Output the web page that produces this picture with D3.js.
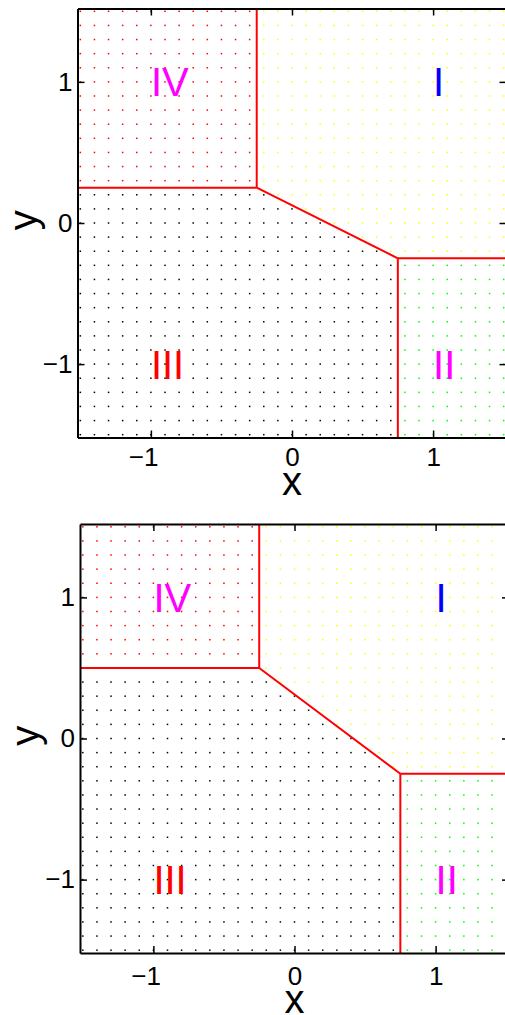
<!DOCTYPE html>
<html>
<head>
<meta charset="utf-8">
<script src="https://cdn.jsdelivr.net/npm/d3@7"></script>
<style>
  body { margin: 0; background: #fff; }
  text { font-family: "Liberation Sans", Arial, sans-serif; }
</style>
</head>
<body>
<div id="chart"></div>
<script>
// axis limits and ticks (same for both panels)
const axisLimits = [-1.52, 1.52];
const xTicks = [-1, 0, 1];
const yTicks = [-1, 0, 1];

// sample grid drawn as dots
const gridMin = -1.5, gridMax = 1.5, gridStep = 0.1;

// region labels
const regionNames = ['I', 'II', 'III', 'IV'];
const labelX = [1, 1, -1, -1];
const labelY = [1, -1, -1, 1];

// boundary corners, one entry per panel
const cornerA = [[-0.25, 0.25], [-0.25, 0.5]];
const cornerB = [[0.75, -0.25], [0.75, -0.25]];

const labelColor = { I: '#0000ff', II: '#ff00ff', III: '#ff0000', IV: '#ff00ff' };
const dotColor = { I: '#ffff00', II: '#00ff00', III: '#000000', IV: '#ff0000' };

const svg = d3.select('#chart').append('svg')
  .attr('width', 505)
  .attr('height', 1015);

const panelLayout = [
  { left: 77.5, top: 8.5, size: 429, tickBase: 10, xLabelY: 495 },
  { left: 80, top: 524, size: 429, tickBase: 14, xLabelY: 1013 }
];

function classify(px, py, a, b) {
  if (px <= a[0] && py >= a[1]) return 'IV';
  if (px >= b[0] && py <= b[1]) return 'II';
  if (px < a[0]) return 'III';
  if (px > b[0]) return 'I';
  const lineY = a[1] + (b[1] - a[1]) * (px - a[0]) / (b[0] - a[0]);
  return py > lineY ? 'I' : 'III';
}

const gridVals = d3.range(Math.round((gridMax - gridMin) / gridStep) + 1).map(i => +(gridMin + i * gridStep).toFixed(2));

panelLayout.forEach((p, k) => {
  const a = cornerA[k], b = cornerB[k];
  const x = d3.scaleLinear().domain(axisLimits).range([p.left, p.left + p.size]);
  const y = d3.scaleLinear().domain(axisLimits).range([p.top + p.size, p.top]);
  const g = svg.append('g');

  // dots
  const pts = [];
  gridVals.forEach(gx => gridVals.forEach(gy => pts.push([gx, gy, classify(gx, gy, a, b)])));
  g.append('g').selectAll('rect')
    .data(pts)
    .enter()
    .append('rect')
    .attr('x', d => x(d[0]) - 0.75)
    .attr('y', d => y(d[1]) - 0.75)
    .attr('width', 1.5)
    .attr('height', 1.5)
    .attr('fill', d => dotColor[d[2]]);

  // decision boundaries
  const segs = [
    [[a[0], axisLimits[1]], a],
    [[axisLimits[0], a[1]], a],
    [a, b],
    [b, [b[0], axisLimits[0]]],
    [b, [axisLimits[1], b[1]]]
  ];
  g.append('g').selectAll('line')
    .data(segs)
    .enter()
    .append('line')
    .attr('x1', d => x(d[0][0]))
    .attr('y1', d => y(d[0][1]))
    .attr('x2', d => x(d[1][0]))
    .attr('y2', d => y(d[1][1]))
    .attr('stroke', '#ff0000')
    .attr('stroke-width', 2);

  // region labels
  g.append('g').selectAll('text')
    .data(regionNames)
    .enter()
    .append('text')
    .attr('x', (d, i) => x(labelX[i]))
    .attr('y', (d, i) => y(labelY[i]) + 14.5)
    .attr('font-size', 40)
    .attr('fill', d => labelColor[d])
    .text(d => d);

  const fmt = v => v < 0 ? '\u2212' + Math.abs(v) : String(v);

  // axes (ticks inward, box on)
  const xAxis = g.append('g')
    .attr('transform', 'translate(0,' + (p.top + p.size) + ')')
    .call(d3.axisBottom(x).tickValues(xTicks).tickFormat(fmt).tickSizeInner(-7).tickSizeOuter(0).tickPadding(p.tickBase));
  xAxis.selectAll('.tick text')
    .attr('font-size', 26)
    .attr('font-family', '"Liberation Sans", Arial, sans-serif')
    .attr('text-anchor', d => d < 0 ? 'end' : 'middle')
    .attr('dx', d => d < 0 ? 7 : 0);

  const yAxis = g.append('g')
    .attr('transform', 'translate(' + p.left + ',0)')
    .call(d3.axisLeft(y).tickValues(yTicks).tickFormat(fmt).tickSizeInner(-7).tickSizeOuter(0).tickPadding(5));
  yAxis.selectAll('.tick text')
    .attr('font-size', 26)
    .attr('font-family', '"Liberation Sans", Arial, sans-serif');

  g.append('g')
    .attr('transform', 'translate(0,' + p.top + ')')
    .call(d3.axisTop(x).tickValues(xTicks).tickFormat('').tickSizeInner(-7).tickSizeOuter(0));
  g.append('g')
    .attr('transform', 'translate(' + (p.left + p.size) + ',0)')
    .call(d3.axisRight(y).tickValues(yTicks).tickFormat('').tickSizeInner(-7).tickSizeOuter(0));

  g.selectAll('.domain').attr('stroke', '#000').attr('stroke-width', 2);
  g.selectAll('.tick line').attr('stroke', '#000').attr('stroke-width', 1.5);

  // axis titles
  g.append('text')
    .attr('x', x(0))
    .attr('y', p.xLabelY)
    .attr('text-anchor', 'middle')
    .attr('font-size', 40)
    .text('x');
  g.append('text')
    .attr('transform', 'translate(' + (p.left - 41) + ',' + y(0.02) + ') rotate(-90)')
    .attr('text-anchor', 'middle')
    .attr('font-size', 40)
    .text('y');
});
</script>
</body>
</html>
